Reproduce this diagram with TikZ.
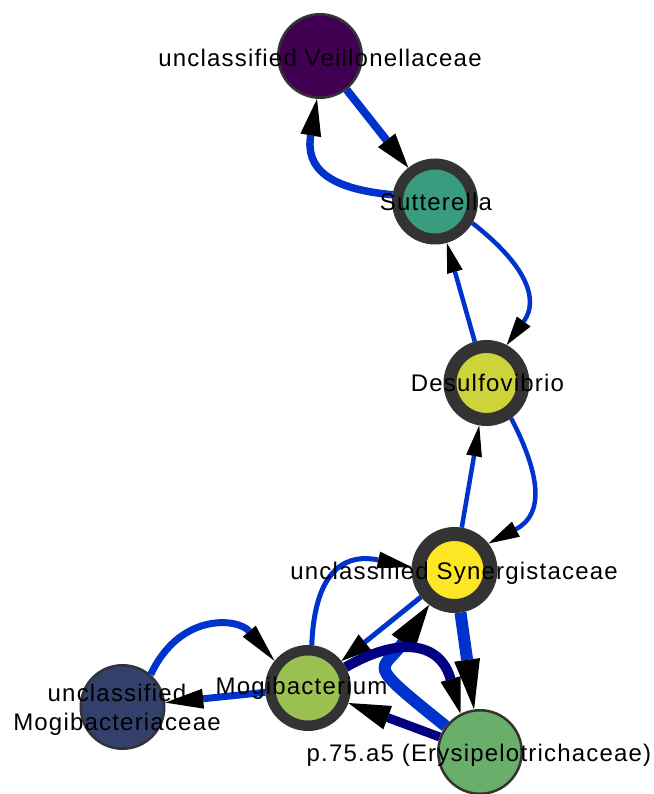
\documentclass[tikz,border=0pt]{standalone}
\usepackage{fontspec}
\setmainfont{Liberation Sans}[LetterSpace=5.0]
\usetikzlibrary{arrows.meta}
\pgfdeclarelayer{edges}
\pgfsetlayers{edges,main}

\definecolor{ringgray}{HTML}{333333}
\definecolor{eblue}{HTML}{0033CC}
\definecolor{enavy}{HTML}{000080}
\definecolor{cveil}{HTML}{420052}
\definecolor{csut}{HTML}{3A9C7F}
\definecolor{cdes}{HTML}{CCD43A}
\definecolor{csyn}{HTML}{FDE725}
\definecolor{cmogi}{HTML}{9BC153}
\definecolor{cmogf}{HTML}{32406B}
\definecolor{cery}{HTML}{6AAE6C}

\tikzset{
  vtx/.style={circle, draw=ringgray, inner sep=0pt},
  thinvtx/.style={vtx, line width=2.5pt, minimum size=83.5pt},
  lbl/.style={anchor=base, inner sep=0pt, text=black, font=\fontsize{24}{29}\selectfont},
  blueedge/.style={draw=eblue, line width=#1},
  navyedge/.style={draw=enavy, line width=#1},
  tipsz/.style 2 args={-{Triangle[length=#1, width=#2, color=black, line width=0pt]}}
}

\begin{document}
\begin{tikzpicture}[x=1pt,y=1pt]
\useasboundingbox (0,0) rectangle (653,794);

% vertices
\node[thinvtx, fill=cveil] (veil) at (320,738) {};
\node[vtx, line width=11pt, minimum size=75pt, fill=csut] (sut) at (435,592.5) {};
\node[vtx, line width=13pt, minimum size=73pt, fill=cdes] (des) at (486.5,411) {};
\node[vtx, line width=14pt, minimum size=72pt, fill=csyn] (syn) at (454.5,224) {};
\node[vtx, line width=10.5pt, minimum size=75.5pt, fill=cmogi] (mogi) at (308,106) {};
\node[thinvtx, fill=cmogf] (mogf) at (122.5,87) {};
\node[thinvtx, fill=cery] (ery) at (480,42) {};

% directed edges, kept below the vertices
\begin{pgfonlayer}{edges}
  \draw[blueedge=8, tipsz={35pt}{22pt}] (veil) -- (sut);
  \draw[blueedge=7.5, tipsz={37pt}{21pt}] (sut.171) .. controls (330,605) and (305,625) .. (veil.266);
  \draw[blueedge=4.5, tipsz={29pt}{17pt}] (sut.330) .. controls (525,530) and (540,495) .. (des.62);
  \draw[blueedge=4.5, tipsz={30pt}{16pt}] (des) -- (sut);
  \draw[blueedge=4.5, tipsz={31pt}{16pt}] (syn) -- (des);
  \draw[blueedge=4.5, tipsz={31pt}{17pt}] (des.305) .. controls (540,320) and (545,280) .. (syn.38);
  \draw[blueedge=5, tipsz={34pt}{17pt}] (mogi.85) .. controls (315,230) and (350,240) .. (syn.176);
  \draw[blueedge=5, tipsz={30pt}{20pt}] (syn) -- (mogi);
  \draw[blueedge=12, tipsz={46pt}{28pt}] (ery.143) .. controls (362,135) and (382,121) .. (syn.234);
  \draw[blueedge=12, tipsz={50pt}{26pt}] (syn) -- (ery);
  \draw[navyedge=10, tipsz={36pt}{21pt}] (mogi.29) .. controls (400,158) and (440,152) .. (ery.117);
  \draw[navyedge=9, tipsz={42pt}{25pt}] (ery) -- (mogi);
  \draw[blueedge=7, tipsz={38pt}{20pt}] (mogi) -- (mogf);
  \draw[blueedge=7, tipsz={39pt}{17pt}] (mogf.49) .. controls (180,182) and (238,176) .. (mogi.141);
\end{pgfonlayer}

% vertex labels
\node[lbl] (t-veil) at (320,727.3) {unclassified Veillonellaceae};
\node[lbl] (t-sut) at (436,583.3) {Sutterella};
\node[lbl] (t-des) at (487.5,402) {Desulfovibrio};
\node[lbl] (t-syn) at (454,214.7) {unclassified Synergistaceae};
\node[lbl] (t-mogi) at (301.5,99) {Mogibacterium};
\node[lbl] (t-mogf1) at (117,92.3) {unclassified};
\node[lbl] (t-mogf2) at (117,63.3) {Mogibacteriaceae};
\node[lbl] (t-ery) at (479,32.3) {p.75.a5 (Erysipelotrichaceae)};
\end{tikzpicture}
\end{document}
